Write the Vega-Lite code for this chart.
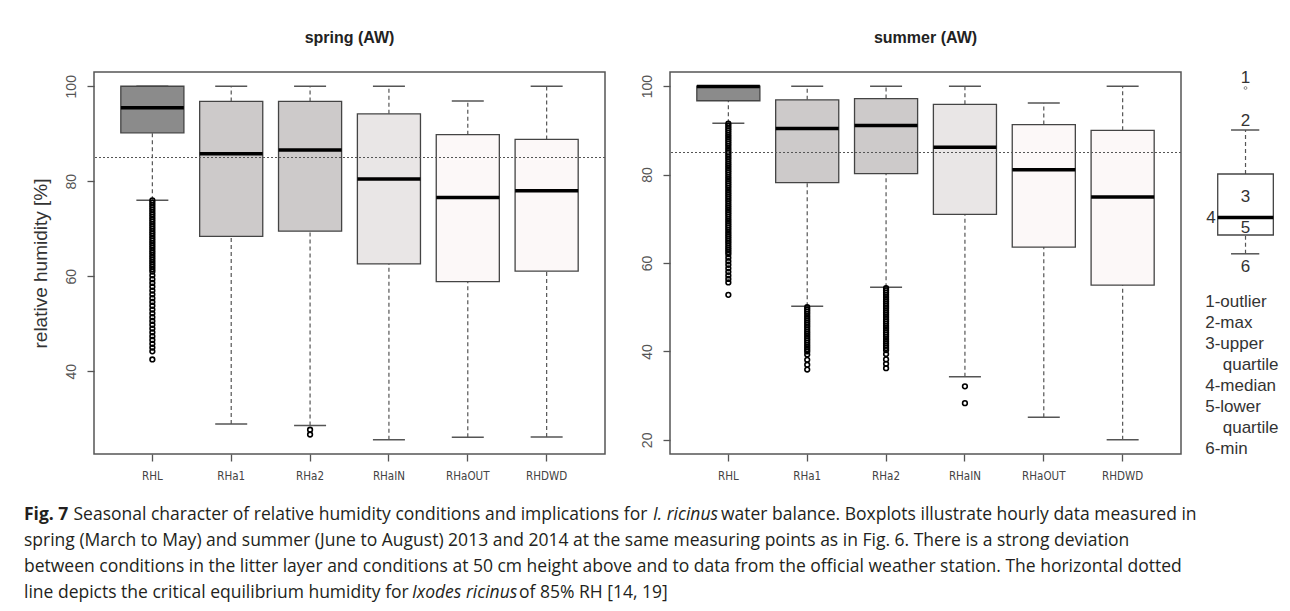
{
  "$schema": "https://vega.github.io/schema/vega-lite/v6.json",
  "background": "white",
  "padding": {"left": 24, "top": 29, "right": 0, "bottom": 0},
  "datasets": {
    "boxes": [
      {"season": "spring", "station": "RHL", "lower": 76.0, "q1": 90.2, "median": 95.5, "q3": 100, "upper": 100},
      {"season": "spring", "station": "RHa1", "lower": 28.9, "q1": 68.4, "median": 85.8, "q3": 96.8, "upper": 100},
      {"season": "spring", "station": "RHa2", "lower": 28.6, "q1": 69.5, "median": 86.6, "q3": 96.8, "upper": 100},
      {"season": "spring", "station": "RHaIN", "lower": 25.6, "q1": 62.6, "median": 80.5, "q3": 94.2, "upper": 100},
      {"season": "spring", "station": "RHaOUT", "lower": 26.1, "q1": 58.9, "median": 76.6, "q3": 89.8, "upper": 96.9},
      {"season": "spring", "station": "RHDWD", "lower": 26.2, "q1": 61.1, "median": 78.0, "q3": 88.8, "upper": 100},
      {"season": "summer", "station": "RHL", "lower": 91.6, "q1": 96.7, "median": 99.9, "q3": 100, "upper": 100},
      {"season": "summer", "station": "RHa1", "lower": 50.2, "q1": 78.2, "median": 90.4, "q3": 96.9, "upper": 100},
      {"season": "summer", "station": "RHa2", "lower": 54.5, "q1": 80.2, "median": 91.1, "q3": 97.2, "upper": 100},
      {"season": "summer", "station": "RHaIN", "lower": 34.3, "q1": 71.0, "median": 86.2, "q3": 95.9, "upper": 100},
      {"season": "summer", "station": "RHaOUT", "lower": 25.1, "q1": 63.6, "median": 81.1, "q3": 91.3, "upper": 96.2},
      {"season": "summer", "station": "RHDWD", "lower": 20.0, "q1": 55.0, "median": 74.9, "q3": 90.0, "upper": 100}
    ],
    "outliers": [
      {"season": "spring", "station": "RHL", "value": 76.0}, {"season": "spring", "station": "RHL", "value": 75.5},
      {"season": "spring", "station": "RHL", "value": 75.0}, {"season": "spring", "station": "RHL", "value": 74.5},
      {"season": "spring", "station": "RHL", "value": 74.0}, {"season": "spring", "station": "RHL", "value": 73.5},
      {"season": "spring", "station": "RHL", "value": 73.0}, {"season": "spring", "station": "RHL", "value": 72.5},
      {"season": "spring", "station": "RHL", "value": 72.0}, {"season": "spring", "station": "RHL", "value": 71.5},
      {"season": "spring", "station": "RHL", "value": 71.0}, {"season": "spring", "station": "RHL", "value": 70.5},
      {"season": "spring", "station": "RHL", "value": 70.0}, {"season": "spring", "station": "RHL", "value": 69.5},
      {"season": "spring", "station": "RHL", "value": 69.0}, {"season": "spring", "station": "RHL", "value": 68.5},
      {"season": "spring", "station": "RHL", "value": 68.0}, {"season": "spring", "station": "RHL", "value": 67.5},
      {"season": "spring", "station": "RHL", "value": 67.0}, {"season": "spring", "station": "RHL", "value": 66.5},
      {"season": "spring", "station": "RHL", "value": 66.0}, {"season": "spring", "station": "RHL", "value": 65.5},
      {"season": "spring", "station": "RHL", "value": 65.0}, {"season": "spring", "station": "RHL", "value": 64.5},
      {"season": "spring", "station": "RHL", "value": 64.0}, {"season": "spring", "station": "RHL", "value": 63.5},
      {"season": "spring", "station": "RHL", "value": 63.0}, {"season": "spring", "station": "RHL", "value": 62.5},
      {"season": "spring", "station": "RHL", "value": 62.0}, {"season": "spring", "station": "RHL", "value": 61.5},
      {"season": "spring", "station": "RHL", "value": 61.0}, {"season": "spring", "station": "RHL", "value": 60.2},
      {"season": "spring", "station": "RHL", "value": 59.4}, {"season": "spring", "station": "RHL", "value": 58.6},
      {"season": "spring", "station": "RHL", "value": 57.8}, {"season": "spring", "station": "RHL", "value": 57.0},
      {"season": "spring", "station": "RHL", "value": 56.2}, {"season": "spring", "station": "RHL", "value": 55.4},
      {"season": "spring", "station": "RHL", "value": 54.6}, {"season": "spring", "station": "RHL", "value": 53.8},
      {"season": "spring", "station": "RHL", "value": 53.0}, {"season": "spring", "station": "RHL", "value": 52.2},
      {"season": "spring", "station": "RHL", "value": 51.4}, {"season": "spring", "station": "RHL", "value": 50.6},
      {"season": "spring", "station": "RHL", "value": 49.8}, {"season": "spring", "station": "RHL", "value": 49.0},
      {"season": "spring", "station": "RHL", "value": 48.2}, {"season": "spring", "station": "RHL", "value": 47.4},
      {"season": "spring", "station": "RHL", "value": 46.6}, {"season": "spring", "station": "RHL", "value": 45.8},
      {"season": "spring", "station": "RHL", "value": 45.0}, {"season": "spring", "station": "RHL", "value": 44.2},
      {"season": "spring", "station": "RHL", "value": 42.5},
      {"season": "spring", "station": "RHa2", "value": 27.7}, {"season": "spring", "station": "RHa2", "value": 26.7},
      {"season": "summer", "station": "RHL", "value": 91.5}, {"season": "summer", "station": "RHL", "value": 91.0},
      {"season": "summer", "station": "RHL", "value": 90.5}, {"season": "summer", "station": "RHL", "value": 90.0},
      {"season": "summer", "station": "RHL", "value": 89.5}, {"season": "summer", "station": "RHL", "value": 89.0},
      {"season": "summer", "station": "RHL", "value": 88.5}, {"season": "summer", "station": "RHL", "value": 88.0},
      {"season": "summer", "station": "RHL", "value": 87.5}, {"season": "summer", "station": "RHL", "value": 87.0},
      {"season": "summer", "station": "RHL", "value": 86.5}, {"season": "summer", "station": "RHL", "value": 86.0},
      {"season": "summer", "station": "RHL", "value": 85.5}, {"season": "summer", "station": "RHL", "value": 85.0},
      {"season": "summer", "station": "RHL", "value": 84.5}, {"season": "summer", "station": "RHL", "value": 84.0},
      {"season": "summer", "station": "RHL", "value": 83.5}, {"season": "summer", "station": "RHL", "value": 83.0},
      {"season": "summer", "station": "RHL", "value": 82.5}, {"season": "summer", "station": "RHL", "value": 82.0},
      {"season": "summer", "station": "RHL", "value": 81.5}, {"season": "summer", "station": "RHL", "value": 81.0},
      {"season": "summer", "station": "RHL", "value": 80.5}, {"season": "summer", "station": "RHL", "value": 80.0},
      {"season": "summer", "station": "RHL", "value": 79.5}, {"season": "summer", "station": "RHL", "value": 79.0},
      {"season": "summer", "station": "RHL", "value": 78.5}, {"season": "summer", "station": "RHL", "value": 78.0},
      {"season": "summer", "station": "RHL", "value": 77.5}, {"season": "summer", "station": "RHL", "value": 77.0},
      {"season": "summer", "station": "RHL", "value": 76.5}, {"season": "summer", "station": "RHL", "value": 76.0},
      {"season": "summer", "station": "RHL", "value": 75.5}, {"season": "summer", "station": "RHL", "value": 75.0},
      {"season": "summer", "station": "RHL", "value": 74.5}, {"season": "summer", "station": "RHL", "value": 74.0},
      {"season": "summer", "station": "RHL", "value": 73.5}, {"season": "summer", "station": "RHL", "value": 73.0},
      {"season": "summer", "station": "RHL", "value": 72.5}, {"season": "summer", "station": "RHL", "value": 72.0},
      {"season": "summer", "station": "RHL", "value": 71.5}, {"season": "summer", "station": "RHL", "value": 71.0},
      {"season": "summer", "station": "RHL", "value": 70.5}, {"season": "summer", "station": "RHL", "value": 70.0},
      {"season": "summer", "station": "RHL", "value": 69.5}, {"season": "summer", "station": "RHL", "value": 69.0},
      {"season": "summer", "station": "RHL", "value": 68.5}, {"season": "summer", "station": "RHL", "value": 68.0},
      {"season": "summer", "station": "RHL", "value": 67.5}, {"season": "summer", "station": "RHL", "value": 67.0},
      {"season": "summer", "station": "RHL", "value": 66.5}, {"season": "summer", "station": "RHL", "value": 66.0},
      {"season": "summer", "station": "RHL", "value": 65.5}, {"season": "summer", "station": "RHL", "value": 65.0},
      {"season": "summer", "station": "RHL", "value": 64.5}, {"season": "summer", "station": "RHL", "value": 64.0},
      {"season": "summer", "station": "RHL", "value": 63.5}, {"season": "summer", "station": "RHL", "value": 63.0},
      {"season": "summer", "station": "RHL", "value": 62.5}, {"season": "summer", "station": "RHL", "value": 62.0},
      {"season": "summer", "station": "RHL", "value": 61.2}, {"season": "summer", "station": "RHL", "value": 60.4},
      {"season": "summer", "station": "RHL", "value": 59.6}, {"season": "summer", "station": "RHL", "value": 58.8},
      {"season": "summer", "station": "RHL", "value": 58.0}, {"season": "summer", "station": "RHL", "value": 57.2},
      {"season": "summer", "station": "RHL", "value": 56.4}, {"season": "summer", "station": "RHL", "value": 55.6},
      {"season": "summer", "station": "RHL", "value": 52.8},
      {"season": "summer", "station": "RHa1", "value": 50.0}, {"season": "summer", "station": "RHa1", "value": 49.5},
      {"season": "summer", "station": "RHa1", "value": 49.0}, {"season": "summer", "station": "RHa1", "value": 48.5},
      {"season": "summer", "station": "RHa1", "value": 48.0}, {"season": "summer", "station": "RHa1", "value": 47.5},
      {"season": "summer", "station": "RHa1", "value": 47.0}, {"season": "summer", "station": "RHa1", "value": 46.5},
      {"season": "summer", "station": "RHa1", "value": 46.0}, {"season": "summer", "station": "RHa1", "value": 45.5},
      {"season": "summer", "station": "RHa1", "value": 45.0}, {"season": "summer", "station": "RHa1", "value": 44.5},
      {"season": "summer", "station": "RHa1", "value": 44.0}, {"season": "summer", "station": "RHa1", "value": 43.5},
      {"season": "summer", "station": "RHa1", "value": 43.0}, {"season": "summer", "station": "RHa1", "value": 42.5},
      {"season": "summer", "station": "RHa1", "value": 42.0}, {"season": "summer", "station": "RHa1", "value": 41.5},
      {"season": "summer", "station": "RHa1", "value": 41.0}, {"season": "summer", "station": "RHa1", "value": 40.5},
      {"season": "summer", "station": "RHa1", "value": 40.0}, {"season": "summer", "station": "RHa1", "value": 39.3},
      {"season": "summer", "station": "RHa1", "value": 38.1}, {"season": "summer", "station": "RHa1", "value": 37.0},
      {"season": "summer", "station": "RHa1", "value": 35.9},
      {"season": "summer", "station": "RHa2", "value": 54.3}, {"season": "summer", "station": "RHa2", "value": 53.8},
      {"season": "summer", "station": "RHa2", "value": 53.3}, {"season": "summer", "station": "RHa2", "value": 52.8},
      {"season": "summer", "station": "RHa2", "value": 52.3}, {"season": "summer", "station": "RHa2", "value": 51.8},
      {"season": "summer", "station": "RHa2", "value": 51.3}, {"season": "summer", "station": "RHa2", "value": 50.8},
      {"season": "summer", "station": "RHa2", "value": 50.3}, {"season": "summer", "station": "RHa2", "value": 49.8},
      {"season": "summer", "station": "RHa2", "value": 49.3}, {"season": "summer", "station": "RHa2", "value": 48.8},
      {"season": "summer", "station": "RHa2", "value": 48.3}, {"season": "summer", "station": "RHa2", "value": 47.8},
      {"season": "summer", "station": "RHa2", "value": 47.3}, {"season": "summer", "station": "RHa2", "value": 46.8},
      {"season": "summer", "station": "RHa2", "value": 46.3}, {"season": "summer", "station": "RHa2", "value": 45.8},
      {"season": "summer", "station": "RHa2", "value": 45.3}, {"season": "summer", "station": "RHa2", "value": 44.8},
      {"season": "summer", "station": "RHa2", "value": 44.3}, {"season": "summer", "station": "RHa2", "value": 43.8},
      {"season": "summer", "station": "RHa2", "value": 43.3}, {"season": "summer", "station": "RHa2", "value": 42.8},
      {"season": "summer", "station": "RHa2", "value": 42.3}, {"season": "summer", "station": "RHa2", "value": 41.8},
      {"season": "summer", "station": "RHa2", "value": 41.3}, {"season": "summer", "station": "RHa2", "value": 40.8},
      {"season": "summer", "station": "RHa2", "value": 40.3}, {"season": "summer", "station": "RHa2", "value": 39.4},
      {"season": "summer", "station": "RHa2", "value": 38.2}, {"season": "summer", "station": "RHa2", "value": 37.2},
      {"season": "summer", "station": "RHa2", "value": 36.2},
      {"season": "summer", "station": "RHaIN", "value": 32.1}, {"season": "summer", "station": "RHaIN", "value": 28.3}
    ],
    "legend": [{"out": 92, "max": 71, "q3": 49, "med": 27.2, "q1": 18.5, "min": 9.1}],
    "legendText": [
      {"line": 1, "label": "1-outlier", "indent": false},
      {"line": 2, "label": "2-max", "indent": false},
      {"line": 3, "label": "3-upper", "indent": false},
      {"line": 4, "label": "quartile", "indent": true},
      {"line": 5, "label": "4-median", "indent": false},
      {"line": 6, "label": "5-lower", "indent": false},
      {"line": 7, "label": "quartile", "indent": true},
      {"line": 8, "label": "6-min", "indent": false}
    ],
    "caption": [
      {"line": 1, "seg": "fig", "text": "Fig. 7"},
      {"line": 1, "seg": "l1a", "text": "Seasonal character of relative humidity conditions and implications for"},
      {"line": 1, "seg": "l1i", "text": "I. ricinus"},
      {"line": 1, "seg": "l1b", "text": "water balance. Boxplots illustrate hourly data measured in"},
      {"line": 2, "seg": "full", "text": "spring (March to May) and summer (June to August) 2013 and 2014 at the same measuring points as in Fig. 6. There is a strong deviation"},
      {"line": 3, "seg": "full", "text": "between conditions in the litter layer and conditions at 50 cm height above and to data from the official weather station. The horizontal dotted"},
      {"line": 4, "seg": "full", "text": "line depicts the critical equilibrium humidity for"},
      {"line": 4, "seg": "l4i", "text": "Ixodes ricinus"},
      {"line": 4, "seg": "l4b", "text": "of 85% RH [14, 19]"}
    ]
  },
  "vconcat": [
    {
      "hconcat": [
        {
          "width": 511,
          "height": 382,
          "title": {"text": "spring (AW)"},
          "layer": [
            {
              "data": {"name": "boxes"},
              "transform": [{"filter": "datum.season === 'spring'"}],
              "encoding": {
                "x": {"field": "station", "type": "nominal", "title": null,
                      "scale": {"domain": ["RHL", "RHa1", "RHa2", "RHaIN", "RHaOUT", "RHDWD"], "paddingInner": 0, "paddingOuter": 0.24}}
              },
              "layer": [
                {"mark": {"type": "rule", "color": "#555", "strokeWidth": 1.2, "strokeDash": [4, 3]},
                 "encoding": {"y": {"field": "lower", "type": "quantitative", "title": "relative humidity [%]",
                                    "scale": {"domain": [22.6, 103], "nice": false, "zero": false},
                                    "axis": {"values": [40, 60, 80, 100], "titleFontSize": 19, "titleFontWeight": "normal", "titleColor": "#333", "titlePadding": 14}},
                              "y2": {"field": "q1"}}},
                {"mark": {"type": "rule", "color": "#555", "strokeWidth": 1.2, "strokeDash": [4, 3]},
                 "encoding": {"y": {"field": "q3", "type": "quantitative", "title": "relative humidity [%]"}, "y2": {"field": "upper"}}},
                {"mark": {"type": "tick", "size": 32, "thickness": 1.5, "color": "#555", "opacity": 1},
                 "encoding": {"y": {"field": "lower", "type": "quantitative", "title": "relative humidity [%]"}}},
                {"mark": {"type": "tick", "size": 32, "thickness": 1.5, "color": "#555", "opacity": 1},
                 "encoding": {"y": {"field": "upper", "type": "quantitative", "title": "relative humidity [%]"}}},
                {"mark": {"type": "bar", "width": {"band": 0.8}, "stroke": "#444", "strokeWidth": 1.3, "opacity": 1},
                 "encoding": {"y": {"field": "q1", "type": "quantitative", "title": "relative humidity [%]"}, "y2": {"field": "q3"},
                              "color": {"field": "station", "type": "nominal", "legend": null,
                                        "scale": {"domain": ["RHL", "RHa1", "RHa2", "RHaIN", "RHaOUT", "RHDWD"], "range": ["#8b8b8b", "#cdcaca", "#cdcaca", "#e9e6e6", "#fcf8f8", "#fcf8f8"]}}}},
                {"mark": {"type": "tick", "size": 63, "thickness": 3.5, "color": "black", "opacity": 1},
                 "encoding": {"y": {"field": "median", "type": "quantitative", "title": "relative humidity [%]"}}}
              ]
            },
            {
              "data": {"name": "outliers"},
              "transform": [{"filter": "datum.season === 'spring'"}],
              "mark": {"type": "point", "shape": "circle", "filled": false, "size": 22, "color": "black", "strokeWidth": 1.6, "opacity": 1},
              "encoding": {"x": {"field": "station", "type": "nominal", "title": null},
                           "y": {"field": "value", "type": "quantitative", "title": "relative humidity [%]"}}
            },
            {
              "data": {"values": [{"threshold": 85}]},
              "mark": {"type": "rule", "color": "#555", "strokeWidth": 1.1, "strokeDash": [2, 2]},
              "encoding": {"y": {"field": "threshold", "type": "quantitative", "title": "relative humidity [%]"}}
            }
          ]
        },
        {
          "hconcat": [
            {
              "width": 511,
              "height": 382,
              "title": {"text": "summer (AW)"},
              "layer": [
                {
                  "data": {"name": "boxes"},
                  "transform": [{"filter": "datum.season === 'summer'"}],
                  "encoding": {
                    "x": {"field": "station", "type": "nominal", "title": null,
                          "scale": {"domain": ["RHL", "RHa1", "RHa2", "RHaIN", "RHaOUT", "RHDWD"], "paddingInner": 0, "paddingOuter": 0.24}}
                  },
                  "layer": [
                    {"mark": {"type": "rule", "color": "#555", "strokeWidth": 1.2, "strokeDash": [4, 3]},
                     "encoding": {"y": {"field": "lower", "type": "quantitative", "title": null,
                                        "scale": {"domain": [16.8, 103.2], "nice": false, "zero": false},
                                        "axis": {"values": [20, 40, 60, 80, 100]}},
                                  "y2": {"field": "q1"}}},
                    {"mark": {"type": "rule", "color": "#555", "strokeWidth": 1.2, "strokeDash": [4, 3]},
                     "encoding": {"y": {"field": "q3", "type": "quantitative", "title": null}, "y2": {"field": "upper"}}},
                    {"mark": {"type": "tick", "size": 32, "thickness": 1.5, "color": "#555", "opacity": 1},
                     "encoding": {"y": {"field": "lower", "type": "quantitative", "title": null}}},
                    {"mark": {"type": "tick", "size": 32, "thickness": 1.5, "color": "#555", "opacity": 1},
                     "encoding": {"y": {"field": "upper", "type": "quantitative", "title": null}}},
                    {"mark": {"type": "bar", "width": {"band": 0.8}, "stroke": "#444", "strokeWidth": 1.3, "opacity": 1},
                     "encoding": {"y": {"field": "q1", "type": "quantitative", "title": null}, "y2": {"field": "q3"},
                                  "color": {"field": "station", "type": "nominal", "legend": null,
                                            "scale": {"domain": ["RHL", "RHa1", "RHa2", "RHaIN", "RHaOUT", "RHDWD"], "range": ["#8b8b8b", "#cdcaca", "#cdcaca", "#e9e6e6", "#fcf8f8", "#fcf8f8"]}}}},
                    {"mark": {"type": "tick", "size": 63, "thickness": 3.5, "color": "black", "opacity": 1},
                     "encoding": {"y": {"field": "median", "type": "quantitative", "title": null}}}
                  ]
                },
                {
                  "data": {"name": "outliers"},
                  "transform": [{"filter": "datum.season === 'summer'"}],
                  "mark": {"type": "point", "shape": "circle", "filled": false, "size": 22, "color": "black", "strokeWidth": 1.6, "opacity": 1},
                  "encoding": {"x": {"field": "station", "type": "nominal", "title": null},
                               "y": {"field": "value", "type": "quantitative", "title": null}}
                },
                {
                  "data": {"values": [{"threshold": 85}]},
                  "mark": {"type": "rule", "color": "#555", "strokeWidth": 1.1, "strokeDash": [2, 2]},
                  "encoding": {"y": {"field": "threshold", "type": "quantitative", "title": null}}
                }
              ]
            },
            {
              "vconcat": [
                {
                  "width": 90,
                  "height": 200,
                  "view": {"stroke": null},
                  "data": {"name": "legend"},
                  "layer": [
                    {"mark": {"type": "rule", "color": "#555", "strokeWidth": 1.2, "strokeDash": [4, 3]},
                     "encoding": {"x": {"datum": 0.528, "type": "quantitative", "scale": {"domain": [0, 1]}, "axis": null},
                                  "y": {"field": "q3", "type": "quantitative", "scale": {"domain": [0, 100]}, "axis": null}, "y2": {"field": "max"}}},
                    {"mark": {"type": "rule", "color": "#555", "strokeWidth": 1.2, "strokeDash": [4, 3]},
                     "encoding": {"x": {"datum": 0.528, "type": "quantitative"},
                                  "y": {"field": "min", "type": "quantitative"}, "y2": {"field": "q1"}}},
                    {"mark": {"type": "rule", "color": "#555", "strokeWidth": 1.5},
                     "encoding": {"x": {"datum": 0.367, "type": "quantitative"}, "x2": {"datum": 0.681},
                                  "y": {"field": "max", "type": "quantitative"}}},
                    {"mark": {"type": "rule", "color": "#555", "strokeWidth": 1.5},
                     "encoding": {"x": {"datum": 0.367, "type": "quantitative"}, "x2": {"datum": 0.681},
                                  "y": {"field": "min", "type": "quantitative"}}},
                    {"mark": {"type": "rect", "fill": "white", "stroke": "#444", "strokeWidth": 1.3},
                     "encoding": {"x": {"datum": 0.219, "type": "quantitative"}, "x2": {"datum": 0.837},
                                  "y": {"field": "q1", "type": "quantitative"}, "y2": {"field": "q3"}}},
                    {"mark": {"type": "rule", "color": "black", "strokeWidth": 3.5},
                     "encoding": {"x": {"datum": 0.219, "type": "quantitative"}, "x2": {"datum": 0.837},
                                  "y": {"field": "med", "type": "quantitative"}}},
                    {"mark": {"type": "point", "shape": "circle", "filled": false, "size": 8, "color": "#555", "strokeWidth": 1},
                     "encoding": {"x": {"datum": 0.528, "type": "quantitative"}, "y": {"field": "out", "type": "quantitative"}}},
                    {"mark": {"type": "text", "text": "1", "fontSize": 17, "color": "#333", "align": "center", "baseline": "middle", "dy": -10},
                     "encoding": {"x": {"datum": 0.528, "type": "quantitative"}, "y": {"field": "out", "type": "quantitative"}}},
                    {"mark": {"type": "text", "text": "2", "fontSize": 17, "color": "#333", "align": "center", "baseline": "middle", "dy": -9},
                     "encoding": {"x": {"datum": 0.528, "type": "quantitative"}, "y": {"field": "max", "type": "quantitative"}}},
                    {"mark": {"type": "text", "text": "3", "fontSize": 17, "color": "#333", "align": "center", "baseline": "middle", "dy": 23},
                     "encoding": {"x": {"datum": 0.528, "type": "quantitative"}, "y": {"field": "q3", "type": "quantitative"}}},
                    {"mark": {"type": "text", "text": "4", "fontSize": 17, "color": "#333", "align": "right", "baseline": "middle", "dx": -2},
                     "encoding": {"x": {"datum": 0.219, "type": "quantitative"}, "y": {"field": "med", "type": "quantitative"}}},
                    {"mark": {"type": "text", "text": "5", "fontSize": 17, "color": "#333", "align": "center", "baseline": "middle", "dy": -7},
                     "encoding": {"x": {"datum": 0.528, "type": "quantitative"}, "y": {"field": "q1", "type": "quantitative"}}},
                    {"mark": {"type": "text", "text": "6", "fontSize": 17, "color": "#333", "align": "center", "baseline": "middle", "dy": 13},
                     "encoding": {"x": {"datum": 0.528, "type": "quantitative"}, "y": {"field": "min", "type": "quantitative"}}}
                  ]
                },
                {
                  "width": 90,
                  "height": 167,
                  "view": {"stroke": null},
                  "data": {"name": "legendText"},
                  "layer": [
                    {"transform": [{"filter": "!datum.indent"}],
                     "mark": {"type": "text", "align": "left", "baseline": "middle", "fontSize": 17, "color": "#333"},
                     "encoding": {"x": {"datum": 0.08, "type": "quantitative", "scale": {"domain": [0, 1]}, "axis": null},
                                  "y": {"field": "line", "type": "ordinal", "axis": null, "scale": {"domain": [1, 2, 3, 4, 5, 6, 7, 8]}},
                                  "text": {"field": "label"}}},
                    {"transform": [{"filter": "datum.indent"}],
                     "mark": {"type": "text", "align": "left", "baseline": "middle", "fontSize": 17, "color": "#333"},
                     "encoding": {"x": {"datum": 0.275, "type": "quantitative"},
                                  "y": {"field": "line", "type": "ordinal"},
                                  "text": {"field": "label"}}}
                  ]
                }
              ],
              "spacing": 17
            }
          ],
          "spacing": 15
        }
      ],
      "spacing": 32
    },
    {
      "width": 1250,
      "height": 104,
      "view": {"stroke": null},
      "data": {"name": "caption"},
      "encoding": {
        "y": {"field": "line", "type": "ordinal", "axis": null, "scale": {"domain": [1, 2, 3, 4]}},
        "text": {"field": "text"}
      },
      "layer": [
        {"transform": [{"filter": "datum.seg === 'fig'"}],
         "mark": {"type": "text", "align": "left", "baseline": "middle", "font": "Open Sans", "fontSize": 17.5, "fontWeight": "bold", "color": "#231f20", "dx": -70},
         "encoding": {"x": {"datum": 0, "type": "quantitative", "scale": {"domain": [0, 1]}, "axis": null}}},
        {"transform": [{"filter": "datum.seg === 'l1a'"}],
         "mark": {"type": "text", "align": "left", "baseline": "middle", "font": "Open Sans", "fontSize": 17.5, "color": "#231f20", "dx": -20.5},
         "encoding": {"x": {"datum": 0, "type": "quantitative"}}},
        {"transform": [{"filter": "datum.seg === 'l1i'"}],
         "mark": {"type": "text", "align": "left", "baseline": "middle", "font": "Open Sans", "fontSize": 17.5, "fontStyle": "italic", "color": "#231f20", "dx": 559},
         "encoding": {"x": {"datum": 0, "type": "quantitative"}}},
        {"transform": [{"filter": "datum.seg === 'l1b'"}],
         "mark": {"type": "text", "align": "left", "baseline": "middle", "font": "Open Sans", "fontSize": 17.5, "color": "#231f20", "dx": 627},
         "encoding": {"x": {"datum": 0, "type": "quantitative"}}},
        {"transform": [{"filter": "datum.seg === 'full'"}],
         "mark": {"type": "text", "align": "left", "baseline": "middle", "font": "Open Sans", "fontSize": 17.5, "color": "#231f20", "dx": -70},
         "encoding": {"x": {"datum": 0, "type": "quantitative"}}},
        {"transform": [{"filter": "datum.seg === 'l4i'"}],
         "mark": {"type": "text", "align": "left", "baseline": "middle", "font": "Open Sans", "fontSize": 17.5, "fontStyle": "italic", "color": "#231f20", "dx": 318},
         "encoding": {"x": {"datum": 0, "type": "quantitative"}}},
        {"transform": [{"filter": "datum.seg === 'l4b'"}],
         "mark": {"type": "text", "align": "left", "baseline": "middle", "font": "Open Sans", "fontSize": 17.5, "color": "#231f20", "dx": 425},
         "encoding": {"x": {"datum": 0, "type": "quantitative"}}}
      ]
    }
  ],
  "spacing": 19,
  "config": {
    "font": "Liberation Sans",
    "view": {"stroke": "#555", "strokeWidth": 1.5},
    "axis": {"grid": false, "domain": false, "ticks": true, "tickColor": "#555", "tickSize": 7, "tickWidth": 1.3,
             "labelColor": "#555", "labelFont": "Liberation Sans", "titleFont": "Liberation Sans"},
    "axisY": {"labelAngle": -90, "labelAlign": "center", "labelBaseline": "bottom", "labelFontSize": 14, "labelPadding": 9},
    "axisX": {"labelFont": "DejaVu Sans Condensed, Liberation Sans", "labelFontSize": 11.5, "labelPadding": 9, "labelAngle": 0, "bandPosition": 0.5, "labelColor": "#444"},
    "title": {"font": "Liberation Sans", "fontSize": 16, "fontWeight": "bold", "color": "#222", "offset": 26, "anchor": "middle"}
  }
}
